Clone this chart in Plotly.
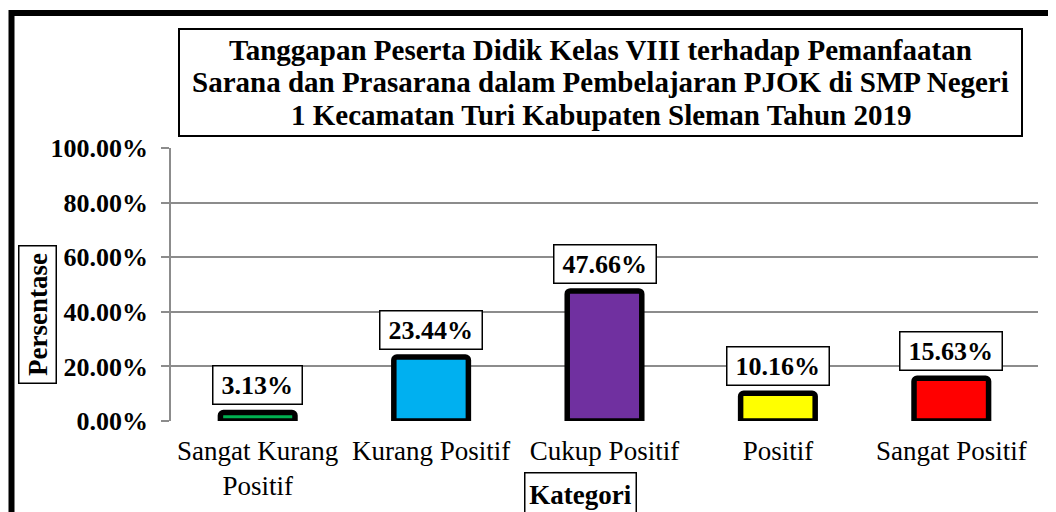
"""Tanggapan peserta didik - bar chart (Excel look) in plotly."""
import plotly.graph_objects as go

kategori = ["Sangat Kurang<br>Positif", "Kurang Positif", "Cukup Positif",
            "Positif", "Sangat Positif"]
persen = [0.0313, 0.2344, 0.4766, 0.1016, 0.1563]
warna = ["#00B050", "#00B0F0", "#7030A0", "#FFFF00", "#FF0000"]
label = ["3.13%", "23.44%", "47.66%", "10.16%", "15.63%"]
judul = ["Tanggapan Peserta Didik Kelas VIII terhadap Pemanfaatan",
         "Sarana dan Prasarana dalam Pembelajaran PJOK di SMP Negeri",
         "1 Kecamatan Turi Kabupaten Sleman Tahun 2019"]

SERIF = "Liberation Serif, Times New Roman, serif"
OFF = 8  # page margin of the html body
W, H = 1056 - OFF, 512 - OFF
L, T = 171 - OFF, 148 - OFF
R, B = W - (1038 - OFF), H - (421 - OFF)
PW, PH = W - L - R, H - T - B


def px(x):  # screen px -> paper
    return (x - OFF - L) / PW


def py(y):
    return (H - B - (y - OFF)) / PH


def text_w(t, size):
    em = sum(1.0 if c == "%" else 0.25 if c == "." else 0.5 for c in t)
    return em * size


fig = go.Figure()
fig.add_bar(x=kategori, y=persen, width=0.43,
            marker=dict(color=warna, line=dict(color="black", width=5.5)),
            marker_cornerradius=3, hoverinfo="skip")

# data labels in boxes
for k, v, t in zip(kategori, persen, label):
    fig.add_annotation(x=k, y=v, text=t, showarrow=False, yanchor="bottom",
                       yshift=7, width=text_w(t, 26) + 10, height=31,
                       bgcolor="white", bordercolor="black",
                       borderwidth=1.5, borderpad=3,
                       font=dict(family=SERIF, size=26, color="black", weight="bold"))

# title box, lines set one by one for the tight leading
fig.add_shape(type="rect", xref="paper", yref="paper",
              x0=px(179), x1=px(1022), y0=py(29), y1=py(136),
              line=dict(color="black", width=2), fillcolor="white")
for i, line in enumerate(judul):
    fig.add_annotation(xref="paper", yref="paper", x=px(600.5), xanchor="center",
                       y=py(50 + 32.5 * i), yanchor="middle", text=line,
                       showarrow=False,
                       font=dict(family=SERIF, size=29, color="black", weight="bold"))

# axis titles in boxes
fig.add_annotation(xref="paper", yref="paper", x=px(37), y=py(315),
                   xanchor="center", yanchor="middle", width=130, height=30,
                   text="Persentase", textangle=-90, showarrow=False,
                   bgcolor="white", bordercolor="black", borderwidth=1.5, borderpad=3,
                   font=dict(family=SERIF, size=27, color="black", weight="bold"))
fig.add_annotation(xref="paper", yref="paper", x=px(580), y=py(494),
                   xanchor="center", yanchor="middle", width=104, height=36,
                   text="Kategori", showarrow=False,
                   bgcolor="white", bordercolor="black", borderwidth=1.5, borderpad=3,
                   font=dict(family=SERIF, size=27, color="black", weight="bold"))

# outer frame (only top/left visible in the crop)
fig.add_shape(type="rect", xref="paper", yref="paper",
              x0=px(11.5), x1=px(1090), y0=py(13), y1=py(560),
              line=dict(color="black", width=6), layer="below")

fig.update_layout(
    width=W, height=H, margin=dict(l=L, r=R, t=T, b=B),
    plot_bgcolor="white", paper_bgcolor="white", showlegend=False,
    xaxis=dict(showgrid=False, ticks="", showline=False, ticklabelstandoff=11,
               automargin=False,
               tickfont=dict(family=SERIF, size=27, color="black")),
    yaxis=dict(range=[0, 1], dtick=0.2, tickformat=".2%", automargin=False,
               showgrid=True, gridcolor="#8c8c8c", gridwidth=1.5,
               showline=True, linecolor="#8c8c8c", linewidth=1.5,
               ticks="outside", ticklen=8, tickcolor="#8c8c8c", tickwidth=1.5,
               zeroline=False, ticklabelstandoff=8,
               tickfont=dict(family=SERIF, size=26, color="black", weight="bold")),
)

fig.write_html("out.html")
